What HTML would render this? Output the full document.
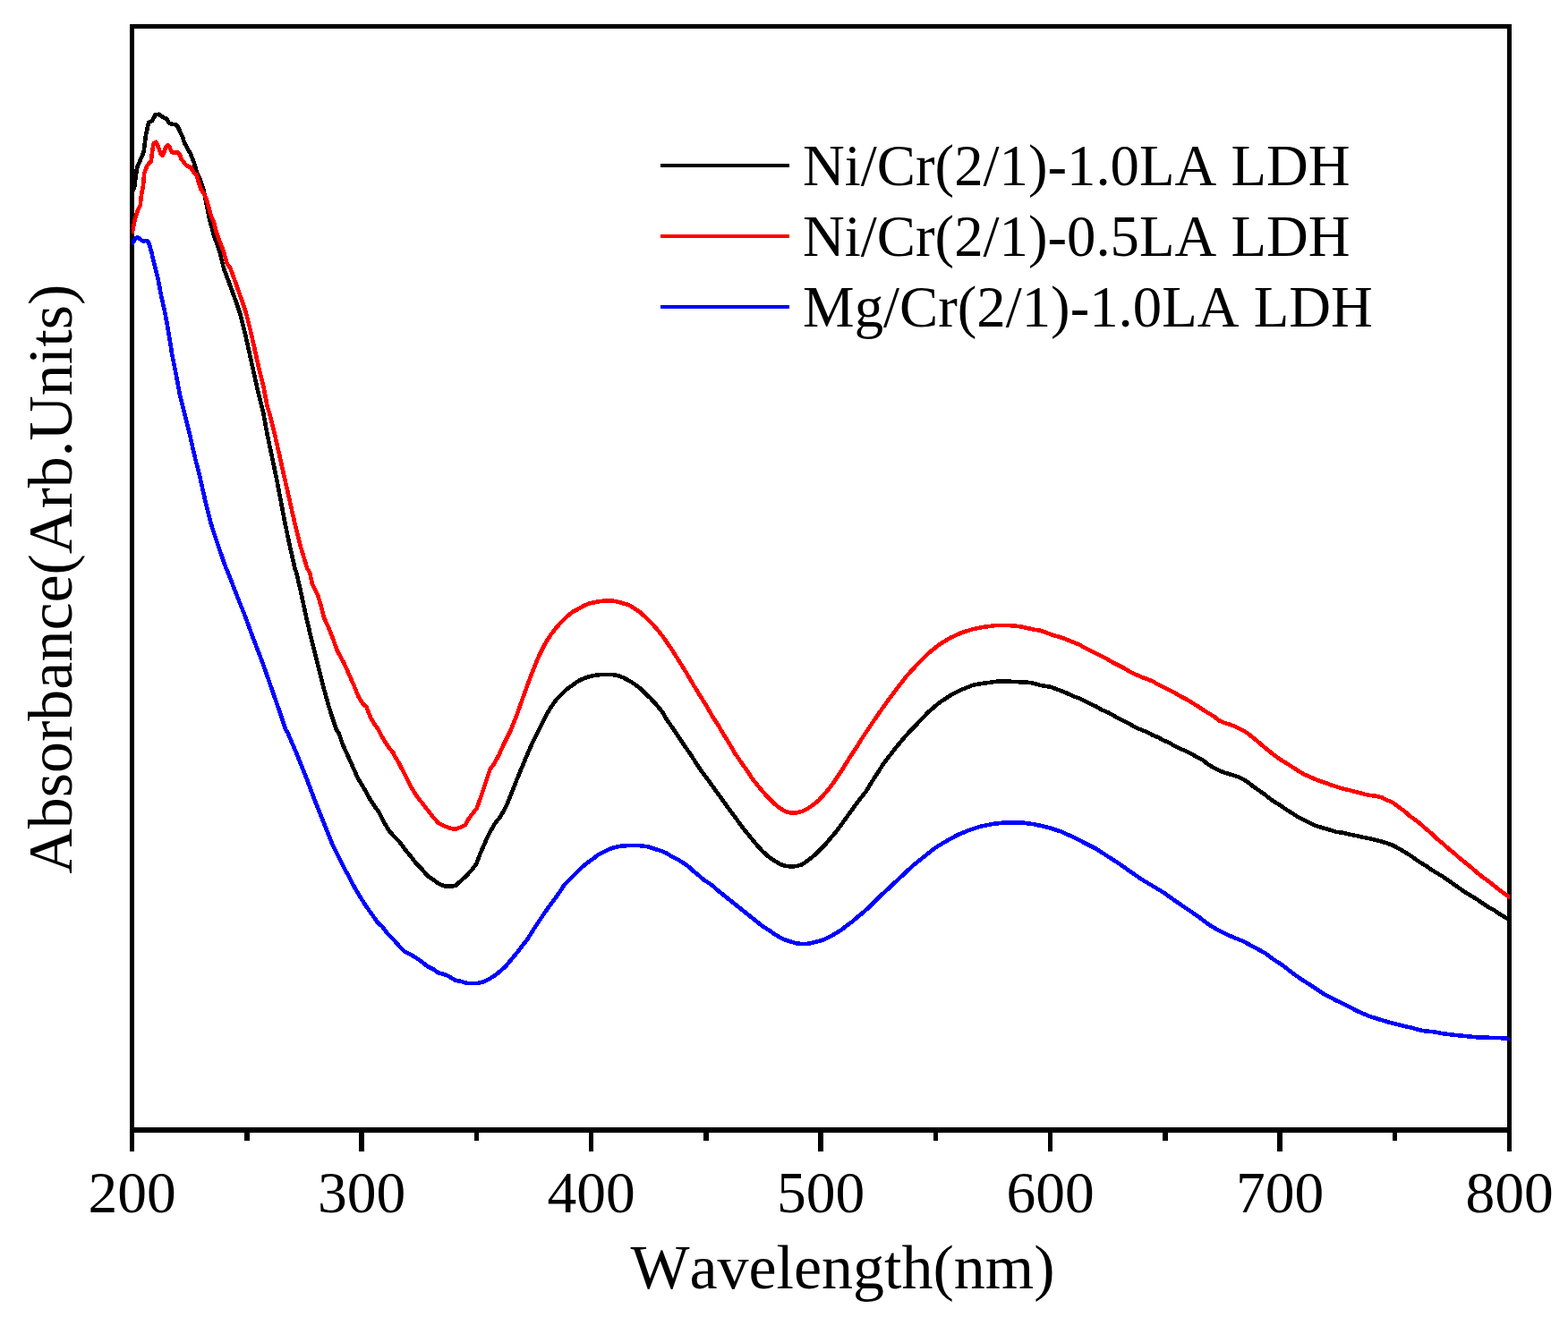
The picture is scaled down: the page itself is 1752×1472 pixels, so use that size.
<!DOCTYPE html>
<html lang="en">
<head>
<meta charset="utf-8">
<title>UV-Vis absorbance spectra</title>
<style>
html,body{margin:0;padding:0;background:#fff;}
body{width:1752px;height:1472px;overflow:hidden;}
svg{display:block;}
text{font-family:"Liberation Serif","DejaVu Serif",serif;fill:#000;font-kerning:none;font-variant-ligatures:none;}
.tick{font-size:65.5px;text-anchor:middle;}
.ttl{font-size:70px;text-anchor:middle;}
.leg{font-size:64.75px;}
</style>
</head>
<body>
<svg width="1752" height="1472" viewBox="0 0 1752 1472">
<rect x="0" y="0" width="1752" height="1472" fill="#ffffff"/>
<rect x="147.5" y="29.5" width="1539.0" height="1233.5" fill="none" stroke="#000" stroke-width="5.5" shape-rendering="crispEdges"/>
<g stroke="#000" stroke-width="5.5" shape-rendering="crispEdges">
<line x1="147.50" y1="1263.0" x2="147.50" y2="1287"/>
<line x1="275.75" y1="1263.0" x2="275.75" y2="1275"/>
<line x1="404.00" y1="1263.0" x2="404.00" y2="1287"/>
<line x1="532.25" y1="1263.0" x2="532.25" y2="1275"/>
<line x1="660.50" y1="1263.0" x2="660.50" y2="1287"/>
<line x1="788.75" y1="1263.0" x2="788.75" y2="1275"/>
<line x1="917.00" y1="1263.0" x2="917.00" y2="1287"/>
<line x1="1045.25" y1="1263.0" x2="1045.25" y2="1275"/>
<line x1="1173.50" y1="1263.0" x2="1173.50" y2="1287"/>
<line x1="1301.75" y1="1263.0" x2="1301.75" y2="1275"/>
<line x1="1430.00" y1="1263.0" x2="1430.00" y2="1287"/>
<line x1="1558.25" y1="1263.0" x2="1558.25" y2="1275"/>
<line x1="1686.50" y1="1263.0" x2="1686.50" y2="1287"/>
</g>
<defs><clipPath id="c"><rect x="147" y="29.5" width="1540" height="1233.5"/></clipPath></defs>
<g fill="none" stroke-width="4.6" stroke-linejoin="round" stroke-linecap="butt" shape-rendering="crispEdges" clip-path="url(#c)">
<path stroke="#000000" d="M147.5,214.0 L150.0,210.0 L153.1,187.5 L160.6,170.0 L163.1,150.0 L166.2,136.9 L170.0,135.0 L173.8,128.1 L177.5,127.8 L182.5,131.2 L186.2,132.8 L188.8,137.5 L192.5,138.8 L196.2,139.0 L198.8,141.9 L203.8,152.5 L206.2,160.0 L212.5,171.2 L216.2,180.0 L220.0,192.5 L223.8,201.2 L227.5,212.5 L230.0,225.0 L233.8,243.8 L238.8,262.5 L245.0,280.0 L250.0,300.0 L257.5,320.0 L263.8,337.5 L268.8,352.5 L273.8,372.5 L278.8,395.0 L283.8,417.5 L288.8,440.0 L294.0,460.0 L298.5,485.0 L303.8,510.0 L309.0,535.0 L313.8,560.0 L318.5,585.0 L323.8,610.0 L329.4,635.0 L331.2,640.0 L336.9,665.0 L342.2,690.0 L348.1,715.0 L354.4,740.0 L360.6,765.0 L367.5,790.0 L375.6,815.0 L378.8,820.0 L383.1,832.5 L388.8,845.0 L394.4,857.5 L400.0,870.0 L407.5,882.5 L414.4,895.0 L423.1,907.5 L428.8,918.8 L435.0,928.8 L440.0,934.4 L446.2,940.6 L452.5,949.4 L458.8,956.9 L465.0,965.0 L471.2,971.2 L477.5,978.8 L483.8,983.1 L490.0,987.5 L496.2,990.2 L502.5,990.6 L508.8,990.0 L515.0,984.4 L521.2,978.8 L527.5,971.9 L532.5,965.0 L536.2,955.0 L540.0,946.2 L543.8,937.5 L547.5,930.0 L552.5,921.2 L558.8,913.1 L565.0,902.5 L571.2,887.5 L577.5,871.2 L583.8,856.2 L590.0,841.2 L596.2,827.5 L600.0,820.0 L605.0,810.0 L610.0,800.0 L615.0,791.2 L621.2,782.5 L627.5,776.0 L633.8,770.0 L640.0,765.6 L646.2,761.2 L652.5,758.1 L658.8,756.2 L665.0,754.8 L671.2,754.0 L677.5,753.8 L683.8,754.0 L690.0,755.0 L696.2,757.2 L702.5,760.6 L708.8,764.4 L715.0,769.1 L721.2,775.0 L727.5,781.2 L733.8,788.1 L740.0,795.6 L743.8,802.5 L752.5,815.0 L758.8,824.4 L765.0,833.8 L771.2,842.5 L777.5,852.5 L783.8,861.9 L790.0,870.0 L796.2,878.8 L802.5,887.5 L808.8,896.2 L815.0,905.0 L821.2,913.1 L827.5,921.9 L833.8,930.0 L840.0,937.5 L846.2,945.0 L852.5,951.9 L858.8,957.5 L865.0,961.9 L871.2,965.6 L877.5,967.9 L883.8,968.5 L890.0,968.1 L896.2,966.2 L902.5,961.9 L908.8,956.9 L915.0,951.2 L921.2,945.0 L927.5,937.5 L933.8,930.0 L940.0,921.9 L946.2,913.1 L952.5,904.4 L958.8,895.6 L968.1,884.0 L975.0,872.5 L987.5,853.1 L1000.0,836.9 L1012.5,821.9 L1025.0,808.8 L1037.5,795.6 L1050.0,785.0 L1062.5,776.9 L1075.0,770.6 L1087.5,765.6 L1100.0,763.5 L1106.2,762.8 L1112.5,761.9 L1118.8,761.2 L1125.0,761.5 L1131.2,761.9 L1137.5,762.2 L1143.8,762.5 L1150.0,762.9 L1156.2,764.0 L1162.5,766.0 L1168.8,766.9 L1175.0,768.1 L1181.2,770.6 L1187.5,772.8 L1193.8,775.6 L1200.0,778.5 L1206.2,780.6 L1212.5,783.8 L1218.8,786.9 L1225.0,789.8 L1231.2,793.5 L1237.5,796.0 L1243.8,799.4 L1250.0,803.1 L1256.2,806.0 L1262.5,809.4 L1268.8,813.1 L1275.0,815.6 L1281.2,818.1 L1287.5,821.5 L1293.8,824.0 L1300.0,827.5 L1306.2,830.0 L1312.5,833.8 L1318.8,836.9 L1325.0,839.4 L1331.2,842.5 L1337.5,846.2 L1343.8,849.4 L1350.0,854.4 L1356.2,858.1 L1362.5,861.2 L1368.8,863.8 L1375.0,865.6 L1381.2,867.5 L1387.5,870.0 L1393.8,873.8 L1400.0,878.8 L1406.2,883.1 L1412.5,887.5 L1418.8,892.5 L1425.0,896.9 L1431.2,900.6 L1437.5,905.0 L1443.8,908.8 L1450.0,913.1 L1456.2,916.2 L1462.5,919.4 L1468.8,922.5 L1475.0,924.4 L1481.2,926.2 L1487.5,928.1 L1493.8,930.0 L1500.0,930.6 L1506.2,932.2 L1512.5,933.5 L1518.8,934.8 L1525.0,936.2 L1531.2,937.5 L1537.5,939.0 L1543.8,940.6 L1550.0,942.5 L1556.2,944.8 L1562.5,948.1 L1568.8,951.9 L1575.0,955.6 L1581.2,960.0 L1587.5,964.4 L1593.8,968.1 L1600.0,972.5 L1606.2,976.2 L1612.5,980.0 L1618.8,984.4 L1625.0,988.8 L1631.2,993.1 L1637.5,997.5 L1643.8,1001.2 L1650.0,1005.0 L1656.2,1009.4 L1662.5,1013.5 L1668.8,1016.9 L1675.0,1021.2 L1681.2,1025.0 L1686.5,1027.8 L1688.5,1028.8"/>
<path stroke="#ff0000" d="M147.5,261.0 L150.6,246.0 L153.1,237.5 L156.9,228.8 L157.8,218.8 L160.0,207.5 L161.2,193.8 L164.4,185.0 L168.8,180.0 L170.6,166.2 L171.9,160.0 L174.4,158.8 L176.2,162.5 L179.4,171.2 L181.2,174.0 L183.1,171.2 L185.0,164.4 L187.5,162.5 L189.8,165.0 L191.9,170.0 L195.0,171.0 L198.1,170.2 L201.2,173.1 L202.5,177.5 L206.2,182.5 L210.0,186.2 L213.1,186.9 L216.2,192.5 L220.0,196.2 L221.9,203.8 L224.4,211.2 L227.5,216.2 L230.6,222.5 L233.8,233.8 L236.2,242.5 L238.8,247.5 L241.2,257.5 L245.0,268.8 L249.5,280.0 L253.8,295.0 L257.5,300.0 L263.8,317.5 L270.0,335.0 L275.0,350.0 L280.0,370.0 L284.5,390.0 L289.5,412.5 L294.5,432.5 L298.8,455.0 L300.6,460.0 L306.9,485.0 L312.5,510.0 L318.1,535.0 L323.8,560.0 L329.4,585.0 L335.6,610.0 L343.1,635.0 L346.2,640.0 L348.8,652.5 L351.9,658.8 L355.0,665.0 L358.8,677.5 L361.9,690.0 L367.5,702.5 L372.5,715.0 L376.9,727.5 L383.8,740.0 L389.4,752.5 L395.0,765.0 L400.0,777.5 L405.0,786.2 L409.4,790.0 L414.4,802.5 L418.1,808.8 L422.5,815.0 L425.0,820.0 L430.0,828.8 L435.0,836.2 L439.5,841.5 L440.0,843.1 L446.2,853.8 L452.5,866.2 L458.8,878.8 L465.0,888.8 L471.2,896.9 L477.5,905.0 L483.8,913.1 L490.0,920.0 L496.2,923.1 L502.5,925.6 L508.8,926.9 L515.0,924.4 L520.0,921.9 L523.8,915.0 L527.5,910.0 L532.5,903.8 L536.2,893.8 L540.0,882.5 L543.8,871.2 L547.5,860.0 L552.5,853.1 L557.5,843.8 L562.5,832.5 L568.8,820.0 L571.2,815.0 L577.5,798.8 L583.8,781.2 L590.0,763.8 L596.2,747.5 L602.5,732.5 L608.8,720.0 L615.0,710.0 L621.2,701.9 L627.5,695.0 L633.8,688.8 L640.0,683.8 L646.2,680.6 L652.5,676.9 L658.8,674.4 L665.0,673.1 L671.2,671.9 L677.5,671.5 L683.8,671.5 L690.0,672.5 L696.2,674.4 L702.5,676.0 L708.8,680.0 L715.0,684.1 L721.2,689.8 L727.5,696.0 L733.8,702.8 L740.0,710.6 L746.2,719.4 L752.5,728.8 L758.8,739.0 L765.0,748.8 L777.5,770.0 L790.0,790.0 L795.6,800.0 L802.5,810.6 L808.8,821.2 L815.0,831.2 L821.2,841.9 L827.5,851.2 L833.8,860.0 L840.0,869.4 L846.2,877.5 L852.5,885.0 L858.8,891.9 L865.0,898.1 L871.2,903.1 L877.5,906.9 L883.8,908.5 L890.0,908.5 L896.2,906.9 L902.5,903.8 L908.8,899.4 L915.0,894.4 L921.2,887.5 L927.5,880.0 L933.8,871.2 L940.0,861.9 L946.2,851.9 L952.5,841.9 L958.8,832.5 L962.5,826.2 L975.0,807.5 L987.5,789.4 L1000.0,772.5 L1012.5,756.2 L1025.0,742.5 L1037.5,730.0 L1050.0,720.0 L1062.5,712.5 L1075.0,706.9 L1087.5,703.1 L1100.0,700.6 L1106.2,700.0 L1112.5,699.0 L1118.8,698.8 L1125.0,698.8 L1131.2,699.4 L1137.5,700.0 L1143.8,701.0 L1150.0,702.5 L1156.2,703.8 L1162.5,704.8 L1168.8,706.9 L1175.0,709.4 L1181.2,711.2 L1187.5,713.1 L1193.8,715.6 L1200.0,718.1 L1206.2,720.6 L1212.5,724.4 L1218.8,727.5 L1225.0,730.6 L1231.2,733.5 L1237.5,736.9 L1243.8,740.6 L1250.0,743.8 L1256.2,746.9 L1262.5,750.6 L1268.8,753.8 L1275.0,756.5 L1281.2,758.8 L1287.5,761.2 L1293.8,765.0 L1300.0,768.1 L1306.2,771.2 L1312.5,774.4 L1318.8,778.1 L1325.0,781.2 L1331.2,785.0 L1337.5,788.8 L1343.8,793.1 L1350.0,796.9 L1356.2,800.6 L1362.5,805.6 L1368.8,808.1 L1375.0,810.0 L1381.2,812.5 L1387.5,815.6 L1393.8,819.4 L1400.0,824.4 L1406.2,829.4 L1412.5,835.0 L1418.8,840.0 L1425.0,845.0 L1431.2,849.4 L1437.5,853.1 L1443.8,857.2 L1450.0,861.2 L1456.2,865.0 L1462.5,867.8 L1468.8,870.6 L1475.0,873.1 L1481.2,875.0 L1487.5,877.5 L1493.8,879.4 L1500.0,881.5 L1506.2,882.8 L1512.5,884.4 L1518.8,886.0 L1525.0,887.8 L1531.2,889.0 L1537.5,889.8 L1543.8,891.2 L1550.0,894.4 L1556.2,896.9 L1562.5,901.9 L1568.8,906.2 L1575.0,911.9 L1581.2,916.2 L1587.5,921.2 L1593.8,926.9 L1600.0,931.9 L1606.2,938.1 L1612.5,943.1 L1618.8,948.8 L1625.0,953.8 L1631.2,959.4 L1637.5,964.4 L1643.8,969.4 L1650.0,975.0 L1656.2,980.0 L1662.5,984.4 L1668.8,989.4 L1675.0,994.4 L1681.2,999.0 L1686.5,1002.6 L1688.5,1004.0"/>
<path stroke="#0000ff" d="M147.5,273.0 L150.6,267.5 L153.1,265.2 L156.2,266.9 L159.4,269.4 L163.8,269.0 L166.2,271.2 L168.1,277.5 L169.4,282.5 L171.2,290.0 L176.2,310.0 L180.0,330.0 L185.0,352.5 L188.8,375.0 L192.5,397.5 L197.0,420.0 L201.2,442.5 L205.6,460.0 L211.9,485.0 L217.5,510.0 L223.8,535.0 L229.4,560.0 L235.6,585.0 L243.8,610.0 L252.5,635.0 L254.8,640.0 L264.4,665.0 L274.4,690.0 L283.5,715.0 L293.1,740.0 L301.9,765.0 L310.6,790.0 L319.0,815.0 L321.9,820.0 L332.5,845.0 L342.5,870.0 L351.9,895.0 L361.9,920.0 L371.9,945.0 L384.4,970.0 L390.0,980.0 L396.2,991.9 L402.5,1002.5 L408.8,1012.5 L415.0,1021.2 L421.2,1030.0 L427.5,1036.2 L433.8,1044.4 L440.0,1050.6 L446.2,1057.5 L452.5,1063.8 L458.8,1066.9 L465.0,1070.6 L471.2,1075.0 L477.5,1080.0 L483.8,1083.1 L490.0,1087.5 L496.2,1088.8 L502.5,1091.9 L508.8,1095.6 L515.0,1096.9 L521.2,1098.8 L527.5,1099.0 L533.8,1098.8 L540.0,1097.5 L546.2,1094.4 L552.5,1090.6 L558.8,1085.6 L565.0,1080.0 L571.2,1072.5 L577.5,1065.0 L583.8,1056.9 L590.0,1048.8 L596.2,1038.8 L600.0,1033.1 L606.2,1023.8 L612.5,1014.4 L618.8,1006.2 L625.0,997.5 L631.2,988.1 L637.5,981.9 L643.8,975.6 L650.0,969.4 L656.2,964.4 L662.5,960.0 L668.8,955.0 L675.0,951.9 L681.2,948.8 L687.5,946.9 L693.8,945.6 L700.0,945.2 L706.2,945.0 L712.5,945.0 L718.8,945.6 L725.0,946.5 L731.2,948.8 L737.5,950.6 L743.8,953.1 L750.0,956.9 L756.2,960.0 L762.5,963.8 L768.8,968.1 L775.0,973.8 L781.2,978.8 L787.5,984.4 L790.0,985.6 L796.2,990.0 L802.5,995.6 L808.8,1000.6 L815.0,1005.6 L821.2,1010.6 L827.5,1015.6 L833.8,1020.6 L840.0,1025.6 L846.2,1030.6 L852.5,1035.6 L858.8,1039.4 L865.0,1043.8 L871.2,1047.5 L877.5,1050.6 L883.8,1052.5 L890.0,1054.4 L896.2,1055.0 L902.5,1054.8 L908.8,1053.5 L915.0,1051.9 L921.2,1050.0 L927.5,1046.9 L933.8,1043.1 L940.0,1039.4 L946.2,1034.4 L952.5,1030.0 L958.8,1024.4 L965.0,1019.4 L971.2,1013.8 L977.5,1007.5 L983.8,1001.2 L990.0,995.6 L996.2,990.0 L1002.5,983.8 L1008.8,978.1 L1020.0,967.5 L1032.5,957.5 L1045.0,947.5 L1057.5,940.0 L1070.0,933.2 L1082.5,928.0 L1095.0,923.8 L1110.0,920.8 L1125.0,919.2 L1140.0,919.2 L1155.0,921.2 L1170.0,924.5 L1185.0,929.2 L1200.0,936.0 L1212.5,942.5 L1225.0,948.8 L1237.5,957.0 L1250.0,965.0 L1262.5,973.8 L1275.0,982.5 L1287.5,990.0 L1300.0,997.5 L1314.0,1007.5 L1326.5,1016.0 L1339.0,1024.5 L1351.5,1034.0 L1364.0,1041.2 L1376.5,1047.0 L1389.0,1052.0 L1401.5,1058.8 L1414.0,1065.5 L1424.0,1073.0 L1434.0,1079.5 L1444.0,1087.5 L1454.0,1094.5 L1466.5,1102.5 L1479.0,1110.8 L1491.5,1117.5 L1504.0,1123.5 L1516.5,1130.0 L1529.0,1135.5 L1541.5,1139.5 L1554.0,1143.2 L1566.5,1146.2 L1579.0,1149.2 L1589.0,1152.0 L1601.5,1153.2 L1614.0,1155.5 L1626.5,1157.0 L1639.0,1158.2 L1651.5,1159.5 L1664.0,1159.8 L1676.5,1160.2 L1686.5,1161.0 L1688.5,1161.2"/>
</g>
<text class="tick" x="147.5" y="1354.5">200</text>
<text class="tick" x="404.0" y="1354.5">300</text>
<text class="tick" x="660.5" y="1354.5">400</text>
<text class="tick" x="917.0" y="1354.5">500</text>
<text class="tick" x="1173.5" y="1354.5">600</text>
<text class="tick" x="1430.0" y="1354.5">700</text>
<text class="tick" x="1686.5" y="1354.5">800</text>
<text class="ttl" x="941.5" y="1440">Wavelength(nm)</text>
<text class="ttl" transform="translate(80,647.3) rotate(-90)">Absorbance(Arb.Units)</text>
<line x1="738" y1="185.0" x2="882" y2="185.0" stroke="#000000" stroke-width="4" shape-rendering="crispEdges"/>
<text class="leg" x="897.1" y="206.9">Ni/Cr(2/1)-1.0LA LDH</text>
<line x1="738" y1="264.0" x2="882" y2="264.0" stroke="#ff0000" stroke-width="4" shape-rendering="crispEdges"/>
<text class="leg" x="897.1" y="285.8">Ni/Cr(2/1)-0.5LA LDH</text>
<line x1="738" y1="343.0" x2="882" y2="343.0" stroke="#0000ff" stroke-width="4" shape-rendering="crispEdges"/>
<text class="leg" x="897.1" y="364.7">Mg/Cr(2/1)-1.0LA LDH</text>
</svg>
</body>
</html>
